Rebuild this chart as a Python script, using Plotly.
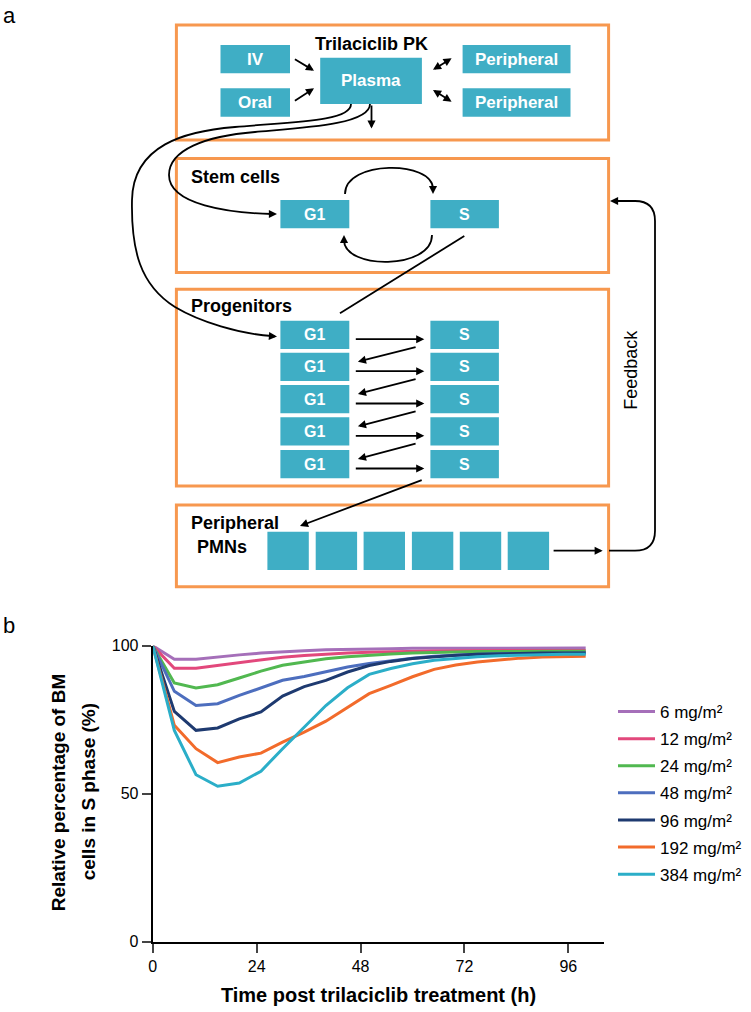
import plotly.graph_objects as go

W, H = 751, 1012

# ---------------- data (panel b) ----------------
TIME_H = [0, 5, 10, 15, 20, 25, 30, 35, 40, 45, 50, 55, 60, 65, 70, 75, 80, 85, 90, 95, 100]
DOSE_LABELS = ["6 mg/m²", "12 mg/m²", "24 mg/m²", "48 mg/m²", "96 mg/m²", "192 mg/m²", "384 mg/m²"]
S_6 = [100, 95.4, 95.4, 96.2, 96.9, 97.5, 98.0, 98.3, 98.6, 98.8, 98.9, 99.0, 99.1, 99.1, 99.1, 99.2, 99.2, 99.2, 99.2, 99.2, 99.2]
S_12 = [100, 92.4, 92.4, 93.3, 94.3, 95.3, 96.1, 96.7, 97.2, 97.5, 97.8, 98.0, 98.1, 98.2, 98.3, 98.3, 98.4, 98.4, 98.4, 98.4, 98.4]
S_24 = [100, 87.4, 85.7, 86.8, 89.1, 91.4, 93.4, 94.6, 95.6, 96.3, 96.8, 97.2, 97.5, 97.7, 97.9, 98.0, 98.0, 98.1, 98.1, 98.1, 98.1]
S_48 = [100, 84.6, 79.8, 80.4, 83.2, 85.8, 88.3, 89.6, 91.1, 92.8, 94.0, 95.0, 95.8, 96.4, 96.8, 97.1, 97.3, 97.4, 97.5, 97.5, 97.5]
S_96 = [100, 77.8, 71.4, 72.2, 75.3, 77.6, 83.0, 86.2, 88.3, 91.1, 93.3, 94.7, 95.7, 96.3, 96.8, 97.1, 97.3, 97.4, 97.5, 97.5, 97.5]
S_192 = [100, 73.1, 65.2, 60.5, 62.4, 63.7, 67.4, 70.8, 74.5, 79.3, 83.8, 86.6, 89.5, 92.0, 93.5, 94.5, 95.2, 95.8, 96.2, 96.3, 96.4]
S_384 = [100, 71.4, 56.4, 52.5, 53.6, 57.6, 65.2, 72.5, 79.8, 85.8, 90.3, 92.3, 93.9, 95.1, 95.8, 96.3, 96.6, 96.8, 97.0, 97.1, 97.1]
SERIES = [S_6, S_12, S_24, S_48, S_96, S_192, S_384]
COLORS = ["#A56FB9", "#E2487C", "#51B850", "#4D6EBE", "#1E3A70", "#F26B2B", "#2BAEC8"]
X_TICKS = [0, 24, 48, 72, 96]
Y_TICKS = [0, 50, 100]

TEAL = "#3FAEC5"
ORANGE = "#F7984F"
FONT = "Liberation Sans, Arial, Helvetica, sans-serif"


def px(x):
    return x / W


def py(y):
    return 1 - y / H


fig = go.Figure()
for label, vals, col in zip(DOSE_LABELS, SERIES, COLORS):
    fig.add_trace(go.Scatter(x=TIME_H, y=vals, mode="lines", name=label, legendgroup=label,
                             line=dict(color=col, width=3)))

shapes = []
annotations = []


def rect(x0, y0, x1, y1, fill=None, line=None, lw=0):
    shapes.append(dict(type="rect", xref="paper", yref="paper", x0=px(x0), x1=px(x1), y0=py(y1), y1=py(y0),
                       fillcolor=fill if fill else "rgba(0,0,0,0)",
                       line=dict(color=line if line else "rgba(0,0,0,0)", width=lw), layer="above"))


def seg(x0, y0, x1, y1, w=1.8):
    shapes.append(dict(type="line", xref="paper", yref="paper", x0=px(x0), y0=py(y0), x1=px(x1), y1=py(y1),
                       line=dict(color="black", width=w), layer="above"))


def path(cmds, w=1.8):
    parts = []
    for c in cmds:
        op = c[0]
        pts = " ".join(f"{px(x):.5f},{py(y):.5f}" for (x, y) in c[1:])
        parts.append(f"{op} {pts}")
    shapes.append(dict(type="path", xref="paper", yref="paper", path=" ".join(parts),
                       line=dict(color="black", width=w), layer="above"))


def arrow(x0, y0, x1, y1, both=False, w=1.8, size=0.9):
    annotations.append(dict(x=px(x1), y=py(y1), xref="paper", yref="paper", ax=x0 - x1, ay=y0 - y1,
                            axref="pixel", ayref="pixel", text="", showarrow=True, arrowhead=2,
                            startarrowhead=2, arrowsize=size, startarrowsize=size, arrowwidth=w,
                            arrowcolor="black", arrowside="end+start" if both else "end",
                            standoff=0, startstandoff=0))


def label(x, y, text, size=17, bold=True, color="white", xanchor="center", angle=0):
    t = f"<b>{text}</b>" if bold else text
    annotations.append(dict(x=px(x), y=py(y), xref="paper", yref="paper", text=t, showarrow=False,
                            xanchor=xanchor, yanchor="middle", textangle=angle,
                            font=dict(family=FONT, size=size, color=color)))


def box(x0, y0, x1, y1, text, size=17):
    rect(x0, y0, x1, y1, fill=TEAL)
    label((x0 + x1) / 2, (y0 + y1) / 2, text, size=size)


# ---------------- panel a ----------------
OX0, OX1 = 176.4, 608.6
for (t, b) in [(25, 140), (158.5, 272.5), (289.3, 486), (505, 586.7)]:
    rect(OX0, t, OX1, b, line=ORANGE, lw=3)

# PK compartment
label(371.5, 43.5, "Trilaciclib PK", size=18, color="black")
box(220.5, 45, 290, 73.3, "IV")
box(220.5, 88.3, 290, 116.7, "Oral")
box(320.2, 57.7, 421.9, 104, "Plasma")
box(462.6, 45, 570.5, 73.3, "Peripheral")
box(462.6, 88.3, 570.5, 116.7, "Peripheral")
arrow(293.4, 58.3, 314, 70.7)
arrow(293.4, 101.7, 314, 88.3)
arrow(431.5, 70.7, 451.6, 58.3, both=True)
arrow(431.5, 89, 451.6, 101.7, both=True)
arrow(371.5, 104, 371.5, 128.5)

# stem cells
label(188.6, 177, "Stem cells", size=18, color="black", xanchor="left")
box(280.4, 200, 349.3, 228.3, "G1", size=16)
box(430.4, 200, 498.9, 228.3, "S", size=16)
path([("M", (345, 194)), ("C", (345, 160), (433, 160), (433, 189))])
arrow(433, 187, 433, 194)
path([("M", (432, 235)), ("C", (432, 270), (344, 270), (344, 240))])
arrow(344, 242, 344, 235)

# curves from plasma
path([("M", (370, 104)), ("C", (370, 125), (300, 128), (255, 132)),
      ("C", (205, 136), (169, 150), (169, 175)), ("C", (169, 205), (230, 213), (272, 214))])
arrow(270, 214, 277, 214)
path([("M", (351, 104)), ("C", (351, 122), (290, 122), (235, 127)),
      ("C", (185, 131), (133, 145), (132, 200)), ("C", (131, 250), (140, 285), (175, 307)),
      ("C", (200, 322), (240, 334), (272, 336))])
arrow(270, 336, 277, 336.5)

# S -> progenitor line
seg(464.3, 236, 340, 313.3)

# progenitors
label(188.6, 306, "Progenitors", size=18, color="black", xanchor="left")
ROW_TOPS = [320.7, 352.7, 385, 417.3, 450]
for t in ROW_TOPS:
    box(280.4, t, 349.3, t + 28.3, "G1", size=16)
    box(430.4, t, 498.9, t + 28.3, "S", size=16)
    arrow(354.3, t + 18.5, 424.3, t + 18.5)
for k in range(4):
    arrow(417.1, ROW_TOPS[k] + 26, 357.9, ROW_TOPS[k + 1] + 9)

# progenitor -> periphery
arrow(423.2, 479.5, 300, 526)

# peripheral PMNs
label(188.9, 523, "Peripheral", size=18, color="black", xanchor="left")
label(195, 546.5, "PMNs", size=18, color="black", xanchor="left")
for l in [267.4, 315.7, 363.6, 411.9, 459.8, 507.7]:
    rect(l, 531.7, l + 41.4, 570, fill=TEAL)
arrow(552.1, 550.7, 602.7, 550.7)

# feedback loop
path([("M", (609, 550.7)), ("L", (635, 550.7)), ("Q", (655, 550.7), (655, 530.7)),
      ("L", (655, 221)), ("Q", (655, 201), (635, 201)), ("L", (616, 201))])
arrow(617, 201, 610, 201)
label(630.7, 370, "Feedback", size=18, bold=False, color="black", angle=-90)

# panel letters
label(1, 15, "a", size=22, bold=False, color="black", xanchor="left")
label(1, 625, "b", size=22, bold=False, color="black", xanchor="left")

# y axis title (two lines)
label(58.3, 792, "Relative percentage of BM", size=19, color="black", angle=-90)
label(88.3, 792, "cells in S phase (%)", size=19, color="black", angle=-90)

fig.update_layout(
    width=W, height=H, margin=dict(l=0, r=0, t=0, b=0, pad=0, autoexpand=False),
    paper_bgcolor="white", plot_bgcolor="white",
    font=dict(family=FONT, size=16, color="black"),
    shapes=shapes, annotations=annotations,
    showlegend=True,
    legend=dict(x=px(613), y=py(694), xanchor="left", yanchor="top", traceorder="grouped",
                tracegroupgap=2, font=dict(family=FONT, size=17, color="black"),
                bgcolor="rgba(0,0,0,0)", itemwidth=37),
    xaxis=dict(domain=[px(152.7), px(604.3)], range=[0, 104.3], tickvals=X_TICKS,
               ticks="outside", ticklen=9, tickwidth=2, showline=True, linewidth=2, linecolor="black",
               showgrid=False, zeroline=False, tickfont=dict(size=16), automargin=False,
               title=dict(text="<b>Time post trilaciclib treatment (h)</b>", font=dict(size=20), standoff=14)),
    yaxis=dict(domain=[py(941.7), py(645.7)], range=[0, 100], tickvals=Y_TICKS,
               ticks="outside", ticklen=9, tickwidth=2, showline=True, linewidth=2, linecolor="black",
               showgrid=False, zeroline=False, tickfont=dict(size=16), automargin=False),
)

fig.write_html("out.html", config={"displayModeBar": False},
               post_script="document.body.style.margin='0';document.body.style.padding='0';")
